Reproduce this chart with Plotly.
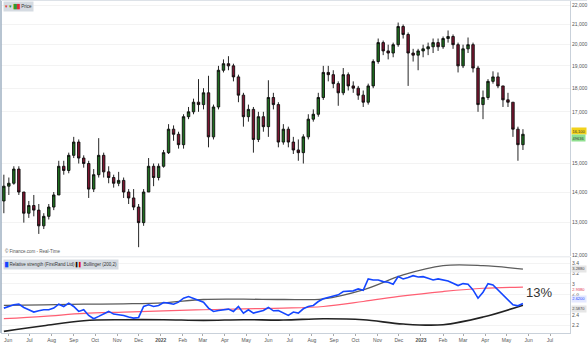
import math
import plotly.graph_objects as go
import pandas as pd

# ---------------- data ----------------
first_week = "2021-05-26"   # weekly candles, mid-week dated

price_open = [13700, 14200, 14300, 14800, 14000, 13300, 13550, 13400, 12900, 13200,
              13500, 13900, 14900, 14750, 15300, 15800, 15200, 15000, 14100, 14600,
              15300, 14700, 14500, 14300, 14400, 14000, 13800, 13500, 13000, 14000,
              14900, 14500, 14900, 15400, 16300, 16100, 15700, 16800, 17000, 17400,
              17300, 17800, 16000, 17200, 18800, 19100, 19000, 18500, 17700, 16800,
              17100, 15900, 16800, 16400, 17600, 17300, 15800, 16300, 15800, 15500,
              15400, 16000, 16700, 16900, 17600, 18700, 18600, 18200, 17800, 18600,
              18100, 18000, 17700, 17400, 18100, 19200, 20100, 19700, 19600, 20000,
              20900, 20500, 19600, 19500, 19700, 19800, 19900, 20100, 19900, 20300,
              20400, 20000, 19000, 19800, 20000, 18900, 17300, 17600, 18300, 18500,
              18100, 17500, 17400, 16300, 15700]
price_high = [14600, 14500, 14900, 14900, 14000, 13700, 13900, 13600, 13300, 13600,
              14000, 15100, 15100, 15400, 16000, 15900, 15300, 15100, 14800, 15950,
              15400, 14900, 14600, 14700, 14500, 14100, 14100, 13600, 14100, 15200,
              15000, 15000, 15500, 16500, 16450, 16200, 16900, 17200, 17550, 18400,
              18000, 18550, 17300, 19000, 19300, 19450, 19100, 18600, 17800, 17300,
              17200, 17000, 17000, 18350, 17800, 17400, 16500, 16400, 16000, 15900,
              16100, 16900, 17100, 17800, 19000, 19000, 18800, 18300, 18900, 18700,
              18300, 18100, 17900, 18200, 19300, 20300, 20200, 20000, 20100, 21100,
              21000, 20600, 19800, 19800, 20000, 20100, 20300, 20300, 20400, 20700,
              20500, 20100, 20000, 20350, 20100, 19000, 17900, 18400, 18750, 18700,
              18100, 17800, 17400, 16400, 16300]
price_low = [13300, 13900, 14250, 13900, 13000, 13150, 13200, 12650, 12800, 13100,
             13400, 13900, 14600, 14650, 15200, 15000, 14850, 13800, 14000, 14500,
             14500, 14300, 14150, 14200, 13800, 13600, 13400, 12250, 12900, 14000,
             14200, 14400, 14850, 15350, 15850, 15550, 15550, 16700, 16900, 17000,
             17100, 15600, 15900, 17100, 18700, 18800, 18300, 17400, 16400, 16600,
             15400, 15800, 16200, 16000, 17100, 15600, 15700, 15600, 15350, 15100,
             15000, 15900, 16600, 16800, 17500, 18300, 18000, 17250, 17700, 17900,
             17800, 17500, 17200, 17300, 18000, 19100, 19500, 19300, 19400, 19900,
             20300, 18100, 19200, 18800, 19400, 19500, 19600, 19700, 19800, 20100,
             19800, 18700, 18900, 19600, 18700, 17000, 16700, 17500, 18200, 18000,
             17200, 17200, 16000, 15100, 15500]
price_close = [14200, 14300, 14800, 14000, 13300, 13550, 13400, 12900, 13200, 13500,
               13900, 14900, 14750, 15300, 15800, 15200, 15000, 14100, 14600, 15300,
               14700, 14500, 14300, 14400, 14000, 13800, 13500, 13000, 14000, 14900,
               14500, 14900, 15400, 16300, 16100, 15700, 16800, 17000, 17400, 17300,
               17800, 16000, 17200, 18800, 19100, 19000, 18500, 17700, 16800, 17100,
               15900, 16800, 16400, 17600, 17300, 15800, 16300, 15800, 15500, 15400,
               16000, 16700, 16900, 17600, 18700, 18600, 18200, 17800, 18600, 18100,
               18000, 17700, 17400, 18100, 19200, 20100, 19700, 19600, 20000, 20900,
               20500, 19600, 19500, 19700, 19800, 19900, 20100, 19900, 20300, 20400,
               20000, 19000, 19800, 20000, 18900, 17300, 17600, 18300, 18500, 18100,
               17500, 17400, 16300, 15700, 16100]

rel_strength = [2.529, 2.561, 2.594, 2.606, 2.542, 2.497, 2.452, 2.477, 2.497, 2.497,
                2.529, 2.606, 2.561, 2.626, 2.561, 2.465, 2.497, 2.387, 2.323, 2.368,
                2.413, 2.465, 2.413, 2.400, 2.387, 2.355, 2.335, 2.348, 2.561, 2.594,
                2.561, 2.581, 2.639, 2.626, 2.606, 2.645, 2.723, 2.755, 2.723, 2.690,
                2.645, 2.529, 2.465, 2.484, 2.497, 2.510, 2.465, 2.561, 2.432, 2.497,
                2.432, 2.465, 2.484, 2.542, 2.477, 2.484, 2.432, 2.387, 2.452, 2.432,
                2.516, 2.561, 2.581, 2.658, 2.710, 2.735, 2.768, 2.787, 2.852, 2.852,
                2.865, 2.903, 2.877, 3.097, 3.077, 3.077, 3.045, 3.032, 2.994, 3.142,
                3.097, 3.123, 3.161, 3.135, 3.142, 3.110, 3.077, 3.097, 3.071, 3.058,
                3.013, 2.968, 3.006, 2.994, 2.884, 2.723, 2.839, 3.006, 2.981, 2.884,
                2.787, 2.671, 2.594, 2.574, 2.620]

band_first = "2021-05-26"   # Bollinger (200,2) read every 8 weeks
bb_upper = [2.581, 2.594, 2.606, 2.613, 2.632, 2.697, 2.703, 2.697, 2.710, 2.884,
            3.174, 3.355, 3.355, 3.288]
bb_mid = [2.323, 2.368, 2.426, 2.452, 2.477, 2.497, 2.516, 2.529, 2.561, 2.658,
          2.768, 2.852, 2.916, 2.938]
bb_lower = [2.077, 2.187, 2.284, 2.303, 2.303, 2.290, 2.303, 2.297, 2.323, 2.303,
            2.219, 2.206, 2.355, 2.587]

price_ticks = [12000, 13000, 14000, 15000, 17000, 18000, 19000, 20000, 21000, 22000]
rs_ticks = [2.2, 2.4, 2.8, 3.0, 3.2, 3.4]
rs_tick_text = ["2.2", "2.4", "2.8", "3", "3.2", "3.4"]
month_labels = ["Jun", "Jul", "Aug", "Sep", "Oct", "Nov", "Dec", "<b>2022</b>", "Feb", "Mar",
                "Apr", "May", "Jun", "Jul", "Aug", "Sep", "Oct", "Nov", "Dec", "<b>2023</b>",
                "Feb", "Mar", "Apr", "May", "Jun", "Jul"]
volume_label = "49636"
note_text = "13%"
# ------------------------------------------------------------------

weeks = pd.date_range(first_week, periods=len(price_close), freq="7D")
band_dates = pd.date_range(band_first, periods=len(bb_upper), freq="56D")
month_ticks = pd.date_range("2021-06-01", periods=len(month_labels), freq="MS")
x_range = ["2021-05-22", "2023-07-29"]

fig = go.Figure()
fig.add_trace(go.Candlestick(
    x=weeks, open=price_open, high=price_high, low=price_low, close=price_close,
    xaxis="x", yaxis="y", whiskerwidth=0, showlegend=False,
    increasing=dict(line=dict(color="#0d0d0d", width=0.9), fillcolor="#1f6e1f"),
    decreasing=dict(line=dict(color="#0d0d0d", width=0.9), fillcolor="#7d1530")))

fig.add_trace(go.Scatter(x=band_dates, y=bb_upper, xaxis="x2", yaxis="y2", mode="lines",
                         line=dict(color="#5c5c5c", width=1.3, shape="spline"), showlegend=False))
fig.add_trace(go.Scatter(x=band_dates, y=bb_lower, xaxis="x2", yaxis="y2", mode="lines",
                         line=dict(color="#222222", width=1.6, shape="spline"), showlegend=False))
fig.add_trace(go.Scatter(x=band_dates, y=bb_mid, xaxis="x2", yaxis="y2", mode="lines",
                         line=dict(color="#ff5f73", width=1.2, shape="spline"), showlegend=False))
fig.add_trace(go.Scatter(x=weeks, y=rel_strength, xaxis="x2", yaxis="y2", mode="lines",
                         line=dict(color="#1446ff", width=1.6), showlegend=False))

tick_font = dict(family="Arial, Liberation Sans, sans-serif", size=5, color="#555555")
top_dom = [0.2299, 1.0]
bot_dom = [0.0, 0.227]

fig.update_layout(
    width=588, height=343, margin=dict(l=1, r=16, t=0, b=8),
    paper_bgcolor="white", plot_bgcolor="white",
    font=dict(family="Arial, Liberation Sans, sans-serif"),
    xaxis=dict(domain=[0, 1], anchor="y", range=x_range, type="date",
               rangeslider=dict(visible=False), showticklabels=False,
               showgrid=False, zeroline=False, matches="x2"),
    yaxis=dict(domain=top_dom, anchor="x", type="log", side="right",
               range=[4.0784, 4.3480], tickvals=price_ticks, tickformat=",d",
               tickfont=tick_font, showgrid=True, gridcolor="#f3f3f3",
               showline=True, linecolor="#c9d1da", linewidth=1, ticks=""),
    xaxis2=dict(domain=[0, 1], anchor="y2", range=x_range, type="date",
                tickvals=month_ticks, ticktext=month_labels, tickfont=tick_font,
                showgrid=False, zeroline=False, ticks="outside", ticklen=2,
                tickcolor="#aaaaaa", showline=True, linecolor="#c9d1da"),
    yaxis2=dict(domain=bot_dom, anchor="x2", side="right", range=[2.045, 3.516],
                tickvals=rs_ticks, ticktext=rs_tick_text, tickfont=tick_font,
                showgrid=True, gridcolor="#f3f3f3", zeroline=False,
                showline=True, linecolor="#c9d1da", linewidth=1, ticks=""),
)

shapes = [
    dict(type="rect", xref="paper", yref="paper", x0=0, x1=1, y0=0.2275, y1=0.2299,
         fillcolor="#d9dee4", line=dict(width=0)),
    dict(type="line", xref="paper", yref="paper", x0=0, x1=0, y0=0, y1=1,
         line=dict(color="#9fb0c2", width=1.5)),
    dict(type="line", xref="paper", yref="paper", x0=0, x1=1.03, y0=1, y1=1,
         line=dict(color="#dde2e8", width=2)),
]
fig.update_layout(shapes=shapes)

anns = []
anns.append(dict(xref="paper", yref="paper", x=0.004, y=0.997, xanchor="left", yanchor="top",
                 text="<span style='color:#e03030'>▾</span> <span style='color:#2e9b2e'>▾</span> "
                      "<span style='color:#2e9b2e'>█</span><span style='color:#e03030'>█</span> Price",
                 showarrow=False, bgcolor="#d5dbe2", font=dict(size=4.5, color="#333333"),
                 borderpad=1))
anns.append(dict(xref="paper", yref="paper", x=0.004, y=top_dom[0] + 0.002, xanchor="left",
                 yanchor="bottom", text="© Finance.com - Real-Time", showarrow=False,
                 font=dict(size=4.5, color="#555555")))
anns.append(dict(xref="paper", yref="paper", x=0.004, y=bot_dom[1] - 0.004, xanchor="left",
                 yanchor="top",
                 text="<span style='color:#1446ff'>█</span> Relative strength (FirstRand Ltd) "
                      "<span style='color:#111'>▌</span><span style='color:#e00000'>▌</span> Bollinger (200,2)",
                 showarrow=False, bgcolor="#d5dbe2", font=dict(size=4.5, color="#333333"),
                 borderpad=1))
anns.append(dict(xref="x2", yref="y2", x="2023-06-15", y=2.83, text=note_text, showarrow=False,
                 font=dict(size=13, color="#333333")))
# right side value boxes
last_price = price_close[-1]
anns.append(dict(xref="paper", yref="y", x=1, y=math.log10(last_price),
                 xanchor="left", xshift=1, yshift=3, text=f"{last_price:,.0f}", showarrow=False,
                 bgcolor="#f2d21b", font=dict(size=4, color="#333333"), borderpad=0.5))
anns.append(dict(xref="paper", yref="y", x=1, y=math.log10(last_price),
                 xanchor="left", xshift=1, yshift=-4, text=volume_label, showarrow=False,
                 bgcolor="#8fe08f", font=dict(size=4, color="#333333"), borderpad=0.5))
for val, col, bg, ys in [(bb_upper[-1], "#444444", "#e6e6e6", 0),
                         (bb_mid[-1], "#e0304a", "#ffffff", -2.5),
                         (rel_strength[-1], "#1446ff", "#e4e8ff", 4),
                         (bb_lower[-1], "#444444", "#e6e6e6", -4)]:
    anns.append(dict(xref="paper", yref="y2", x=1, y=val, xanchor="left", xshift=1, yshift=ys,
                     text=f"{val:.4f}", showarrow=False, bgcolor=bg,
                     font=dict(size=4, color=col), borderpad=0.3))
fig.update_layout(annotations=anns)

fig.write_html("out.html")
